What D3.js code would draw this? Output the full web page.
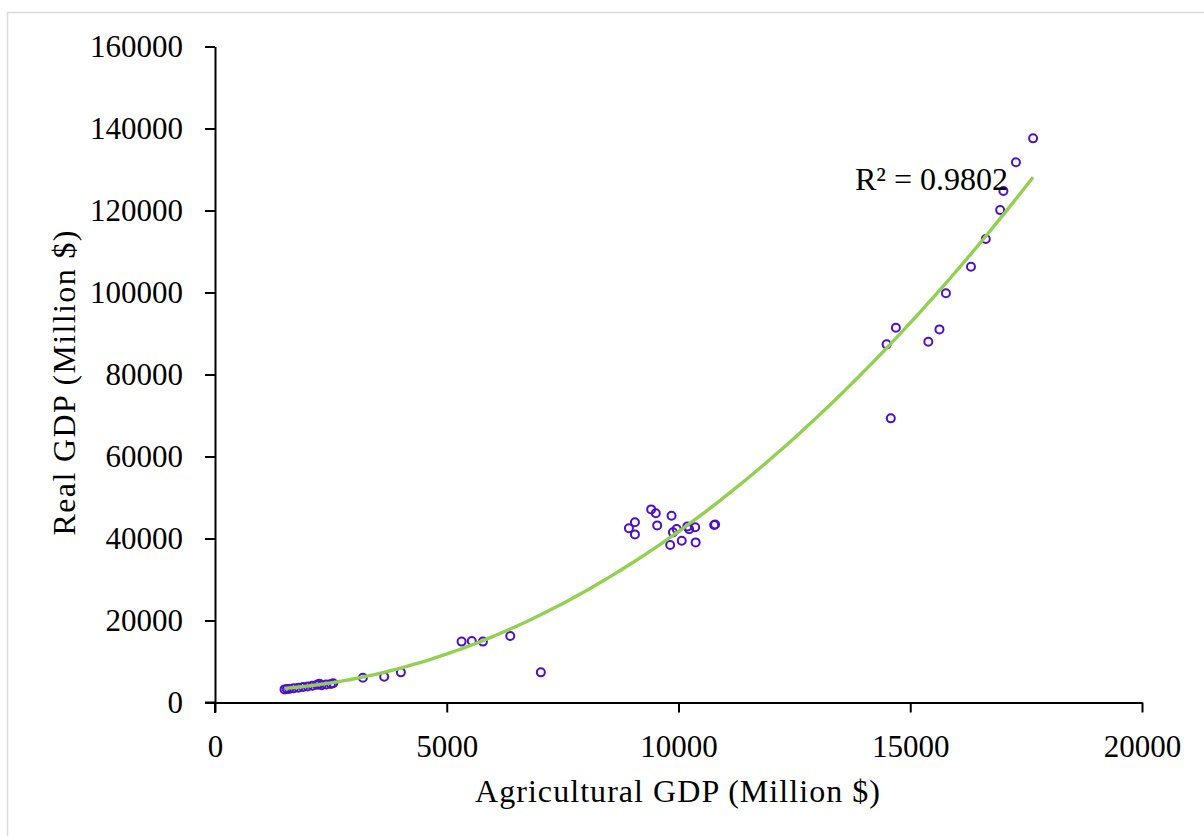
<!DOCTYPE html>
<html>
<head>
<meta charset="utf-8">
<script src="https://cdn.jsdelivr.net/npm/d3@7"></script>
<style>
  html, body { margin: 0; padding: 0; background: #fff; }
  svg { display: block; }
  text { font-family: "Liberation Serif", "Times New Roman", serif; fill: #000; }
</style>
</head>
<body>
<svg id="chart" width="1204" height="836"></svg>
<script>
// ---- Data ----
const agriculturalGDP = [
  1500, 1550, 1600, 1700, 1800, 1900, 2000, 2100, 2200, 2250, 2300, 2400, 2500, 2550,
  3190, 3650, 4010, 5320, 5540, 5780, 6370, 7030,
  8930, 9060, 9060, 9410, 9510, 9540, 9820, 9850, 9880, 9960, 10070, 10190, 10230, 10360, 10370, 10770, 10790,
  14490, 14580, 14690, 15390, 15630, 15770, 16310, 16630, 16940, 17010, 17280, 17650
];
const realGDP = [
  3200, 3300, 3300, 3500, 3600, 3800, 3900, 4100, 4300, 4600, 4200, 4400, 4500, 4700,
  6050, 6300, 7350, 14850, 15000, 14850, 16200, 7350,
  42500, 43950, 41000, 47100, 46150, 43200, 38400, 45550, 41500, 42300, 39450, 42900, 42250, 42750, 39050, 43300, 43400,
  87350, 69300, 91400, 88000, 91000, 99800, 106300, 113050, 120100, 124750, 131750, 137600
];
const xTicks = [0, 5000, 10000, 15000, 20000];
const yTicks = [0, 20000, 40000, 60000, 80000, 100000, 120000, 140000, 160000];
const xTitle = "Agricultural GDP (Million $)";
const yTitle = "Real GDP (Million $)";
const rSquaredLabel = "R² = 0.9802";

// ---- Layout ----
const svg = d3.select("#chart");
const x = d3.scaleLinear().domain([0, 20000]).range([215, 1142]);
const y = d3.scaleLinear().domain([0, 160000]).range([702.5, 46.5]);

// outer chart-area border (light gray, only top & left visible)
svg.append("rect")
  .attr("x", 7.5).attr("y", 12.5)
  .attr("width", 1300).attr("height", 900)
  .attr("fill", "none").attr("stroke", "#d9d9d9").attr("stroke-width", 1.5);

// axes
const xAxis = d3.axisBottom(x).tickValues(xTicks).tickSize(10).tickSizeOuter(0).tickPadding(22)
  .tickFormat(d3.format("d"));
const yAxis = d3.axisLeft(y).tickValues(yTicks).tickSize(10).tickSizeOuter(0).tickPadding(22)
  .tickFormat(d3.format("d"));

const gx = svg.append("g").attr("transform", "translate(0,702.5)").call(xAxis);
const gy = svg.append("g").attr("transform", "translate(215,0)").call(yAxis);
[gx, gy].forEach(g => {
  g.attr("font-family", "Liberation Serif").attr("font-size", 31);
  g.selectAll(".domain").attr("stroke", "#000").attr("stroke-width", 2);
  g.selectAll(".tick line").attr("stroke", "#000").attr("stroke-width", 2);
  g.selectAll(".tick text").attr("font-size", 31).attr("font-family", "Liberation Serif").attr("fill", "#000");
});
// axis lines extended to meet the outer ticks at the origin
svg.append("line").attr("x1", 205).attr("x2", 215).attr("y1", 702.5).attr("y2", 702.5)
  .attr("stroke", "#000").attr("stroke-width", 2);
svg.append("line").attr("x1", 215).attr("x2", 215).attr("y1", 702.5).attr("y2", 713)
  .attr("stroke", "#000").attr("stroke-width", 2);

// axis titles
svg.append("text")
  .attr("x", 677.5).attr("y", 802)
  .attr("text-anchor", "middle")
  .attr("font-size", 32)
  .attr("textLength", 405).attr("lengthAdjust", "spacing")
  .text(xTitle);
svg.append("text")
  .attr("transform", "translate(75,383) rotate(-90)")
  .attr("text-anchor", "middle")
  .attr("font-size", 32)
  .attr("textLength", 305).attr("lengthAdjust", "spacing")
  .text(yTitle);

// data points
const points = agriculturalGDP.map((v, i) => ({ x: v, y: realGDP[i] }));
svg.append("g").selectAll("circle").data(points).join("circle")
  .attr("cx", d => x(d.x)).attr("cy", d => y(d.y)).attr("r", 4)
  .attr("fill", "none").attr("stroke", "#4a10cc").attr("stroke-width", 2);

// polynomial (order 2) least-squares trendline fitted to the data
function polyFit2(xs, ys) {
  const s = 1000; // scale for numerical stability
  let S = [0, 0, 0, 0, 0], T = [0, 0, 0];
  xs.forEach((xv, i) => {
    const u = xv / s, yv = ys[i];
    for (let k = 0; k <= 4; k++) S[k] += Math.pow(u, k);
    for (let k = 0; k <= 2; k++) T[k] += yv * Math.pow(u, k);
  });
  const A = [[S[0], S[1], S[2], T[0]], [S[1], S[2], S[3], T[1]], [S[2], S[3], S[4], T[2]]];
  for (let c = 0; c < 3; c++) {
    let p = c;
    for (let r = c + 1; r < 3; r++) if (Math.abs(A[r][c]) > Math.abs(A[p][c])) p = r;
    [A[c], A[p]] = [A[p], A[c]];
    for (let r = 0; r < 3; r++) if (r !== c) {
      const f = A[r][c] / A[c][c];
      for (let k = c; k < 4; k++) A[r][k] -= f * A[c][k];
    }
  }
  const coef = A.map((row, i) => row[3] / row[i]);
  return xv => { const u = xv / s; return coef[0] + coef[1] * u + coef[2] * u * u; };
}
const fit = polyFit2(agriculturalGDP, realGDP);
const xMin = d3.min(agriculturalGDP), xMax = d3.max(agriculturalGDP);
const trend = d3.range(0, 101).map(i => xMin + (xMax - xMin) * i / 100).map(v => ({ x: v, y: fit(v) }));
svg.append("path")
  .datum(trend)
  .attr("d", d3.line().x(d => x(d.x)).y(d => y(d.y)))
  .attr("fill", "none").attr("stroke", "#92d050").attr("stroke-width", 3.4);

// R² label
svg.append("text")
  .attr("x", 855).attr("y", 190)
  .attr("font-size", 32)
  .text(rSquaredLabel);
</script>
</body>
</html>
